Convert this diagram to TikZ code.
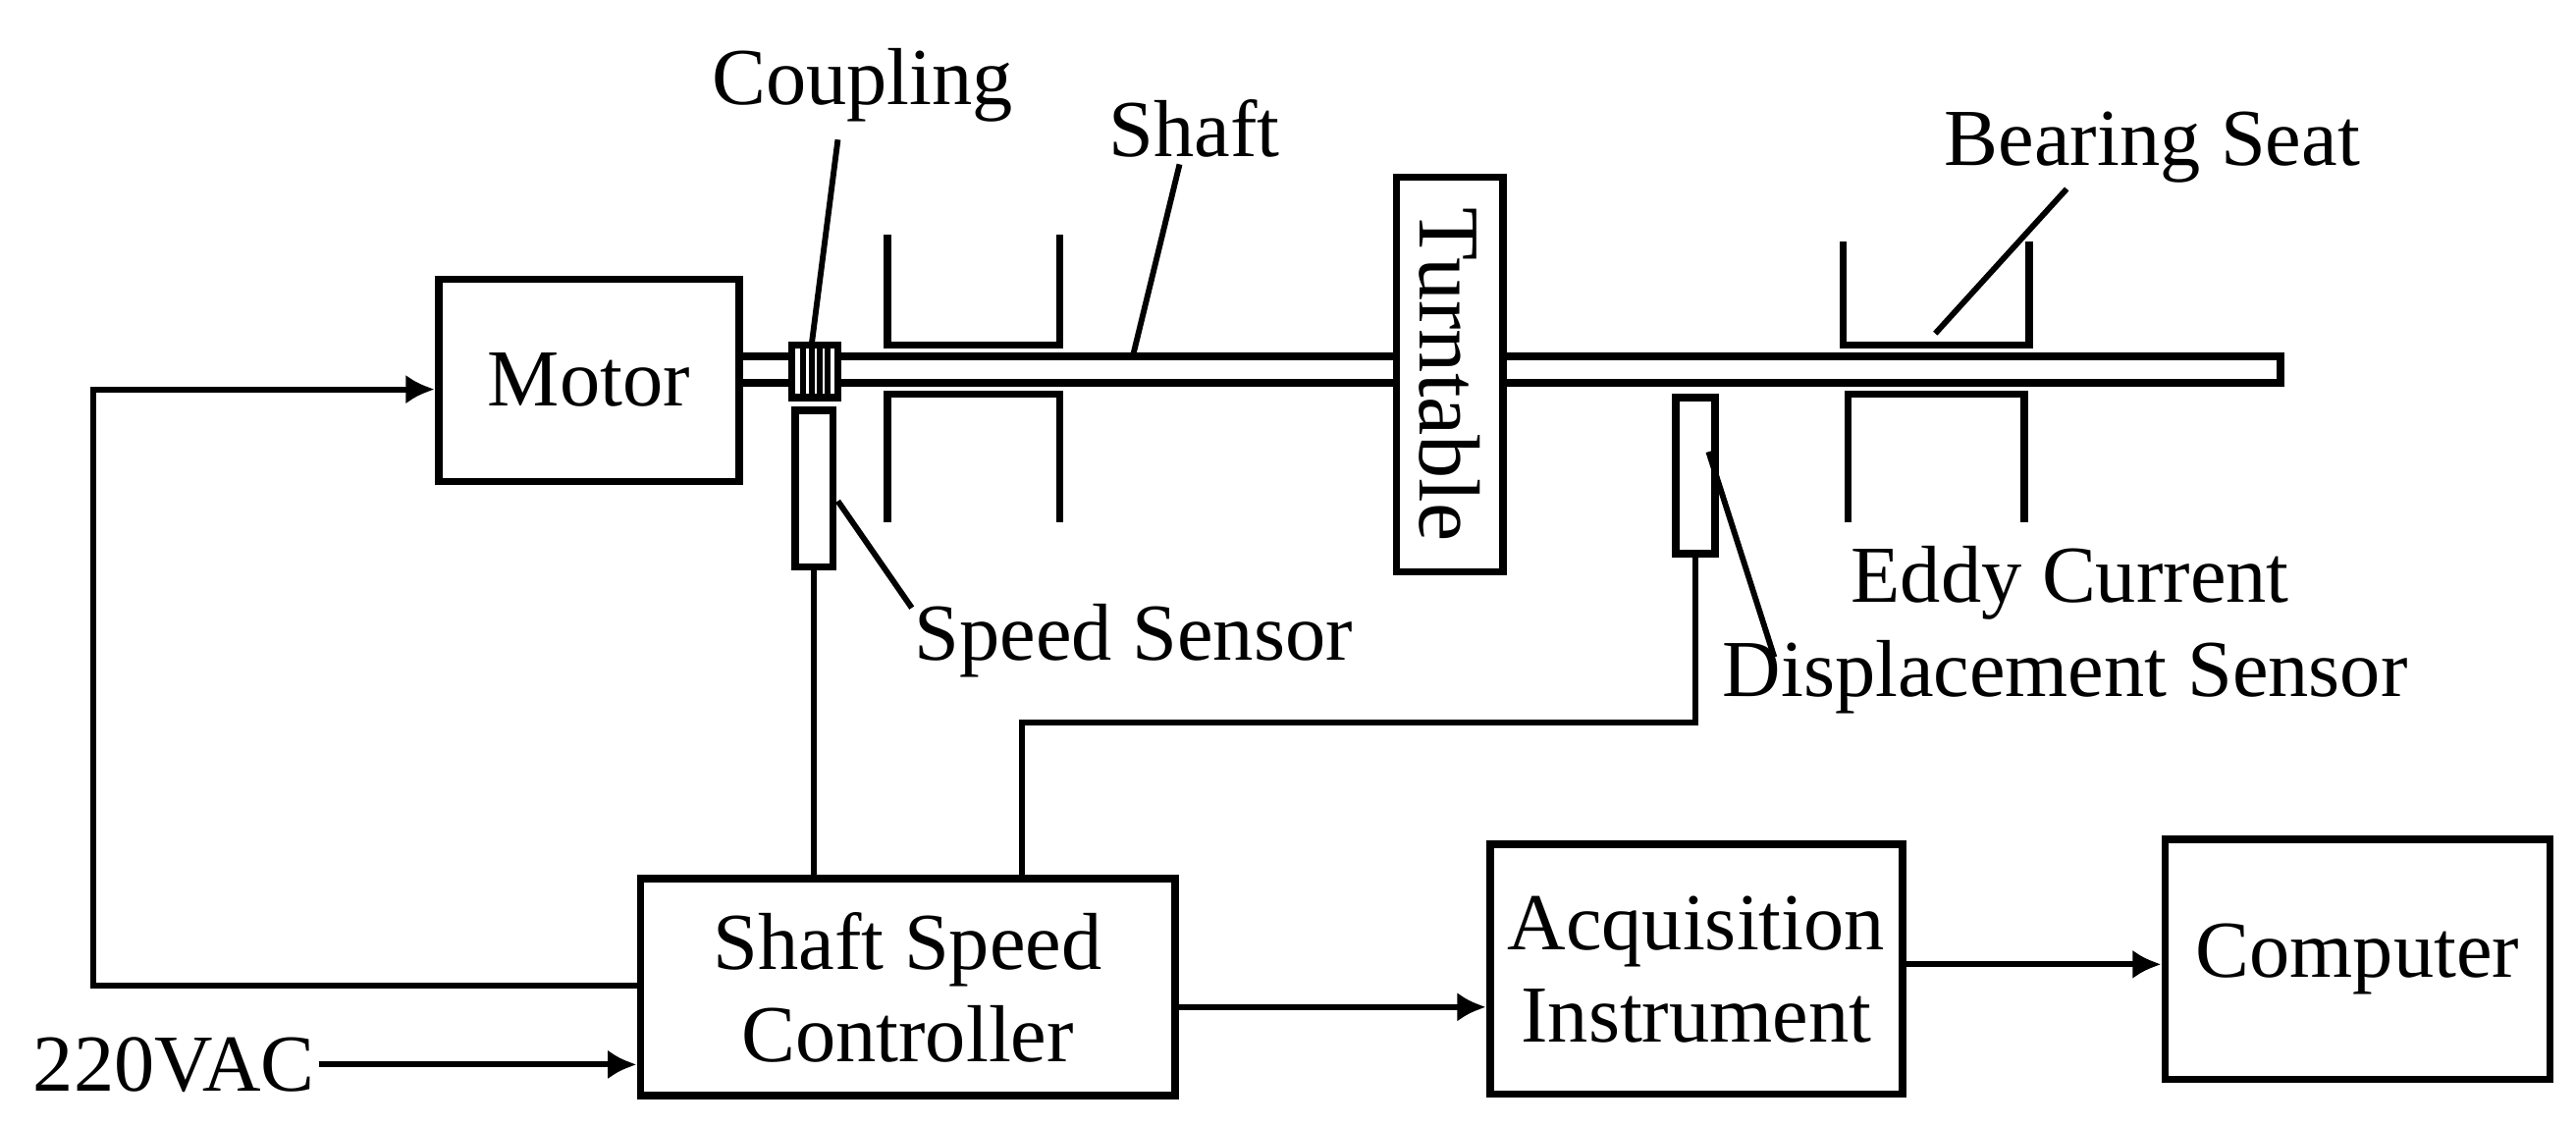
\documentclass[tikz,border=0pt]{standalone}
\usepackage{fontspec}
\setmainfont{Liberation Serif}
\usetikzlibrary{arrows.meta}
\begin{document}
\begin{tikzpicture}[x=0.01cm,y=-0.01cm,line width=1.3pt,
  box/.style={draw,minimum width=#1,inner sep=0pt,align=center,font=\fontsize{14}{16}\selectfont},
  lbl/.style={inner sep=0pt,font=\fontsize{14}{15}\selectfont},
  arr/.style={-{Latex[length=5pt,width=5pt]}},
  thin/.style={line width=1pt}]
\useasboundingbox (0,0) rectangle (1568,685);
% boxes
\node[box=0,minimum width=1.83cm,minimum height=1.23cm] (motor) at (358.5,231.5) {Motor};
\node[box=0,minimum width=3.25cm,minimum height=1.32cm] (ctrl) at (552.5,601) {Shaft Speed\\Controller};
\node[box=0,minimum width=2.51cm,minimum height=1.52cm] (acq) at (1032.5,590) {Acquisition\\Instrument};
\node[box=0,minimum width=2.34cm,minimum height=1.46cm] (comp) at (1435,584) {Computer};
\node[box=0,minimum width=0.65cm,minimum height=2.4cm] (turn) at (882.5,228) {};
\node[lbl,rotate=-90,font=\fontsize{15}{16}\selectfont] (turnt) at (882.5,228) {Turntable};
% shaft
\draw (motor.east|-0,217) -- (850,217) (motor.east|-0,233) -- (850,233);
\draw (915,217) -- (1388,217) -- (1388,233) -- (915,233);
% coupling
\node[draw,fill=white,minimum width=0.28cm,minimum height=0.32cm,inner sep=0pt,line width=1.2pt] (coup) at (496,226) {};
\foreach \x in {489,494,499,504} \draw[thin] (\x,210) -- (\x,242);
% bearings
\draw (540,143) -- (540,210) -- (645,210) -- (645,143);
\draw (540,318) -- (540,240) -- (645,240) -- (645,318);
\draw (1122,147) -- (1122,210) -- (1235,210) -- (1235,147);
\draw (1125,318) -- (1125,240) -- (1232,240) -- (1232,318);
% sensors
\node[draw,minimum width=0.23cm,minimum height=0.95cm,inner sep=0pt] (ss) at (495.5,297.5) {};
\node[draw,minimum width=0.24cm,minimum height=0.95cm,inner sep=0pt] (es) at (1032,289.5) {};
\draw[thin] (ss.south) -- (ss.south|-ctrl.north);
\coordinate (e1) at (1032,440);
\coordinate (e2) at (622,440);
\draw[thin] (es.south) -- (e1) -- (e2) -- (e2|-ctrl.north);
% arrows
\coordinate (l1) at (57,600);
\coordinate (l2) at (57,237);
\draw[thin,arr] (ctrl.west|-l1) -- (l1) -- (l2) -- (motor.west|-l2);
\node[lbl,anchor=west] (vac) at (18,648) {220VAC};
\draw[thin,arr] (vac.east) -- (ctrl.west|-vac.east);
\draw[thin,arr] (ctrl.east|-0,613) -- (acq.west|-0,613);
\draw[thin,arr] (acq.east|-0,587) -- (comp.west|-0,587);
% labels
\node[lbl] (lc) at (525,52) {Coupling};
\draw[thin] (510,85) -- (494,210);
\node[lbl] (ls) at (727,78) {Shaft};
\draw[thin] (718,100) -- (690,215);
\node[lbl] (lb) at (1310,90) {Bearing Seat};
\draw[thin] (1258,115) -- (1178,203);
\node[lbl] (lsp) at (690,390) {Speed Sensor};
\draw[thin] (555,370) -- (510,305);
\node[lbl] (le1) at (1260,355) {Eddy Current};
\node[lbl] (le2) at (1257,412) {Displacement Sensor};
\draw[thin] (1080,400) -- (1040,275);
\end{tikzpicture}
\end{document}
